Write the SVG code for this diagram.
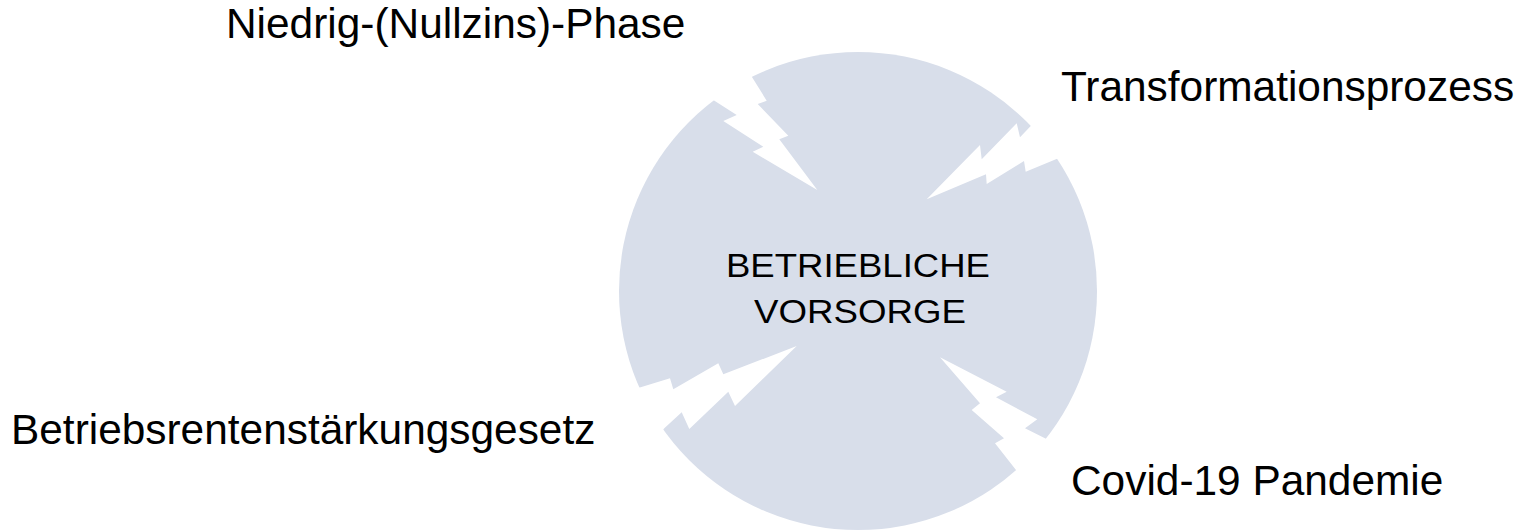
<svg xmlns="http://www.w3.org/2000/svg" width="1519" height="531" viewBox="0 0 1519 531">
  <style>
    .lbl { font-family: "Liberation Sans", Arial, sans-serif; font-size: 42.4px; fill: #000000; }
    .ctr { font-family: "Liberation Sans", Arial, sans-serif; font-size: 33px; fill: #000000; text-anchor: middle; }
    .disc { fill: #D8DEEA; }
    .bolt { fill: #FFFFFF; stroke: none; }
  </style>
  <rect x="0" y="0" width="1519" height="531" fill="#FFFFFF"/>
  <g id="node-vorsorge">
    <circle class="disc" cx="858" cy="291" r="239"/>
  </g>
  <g id="connectors">
    <polygon class="bolt" points="750.7,75 766.7,100.7 757.7,104 788.3,135.7 779.3,139.3 817.3,190 752.7,151.7 763.3,146.7 723.3,121 736.7,115 713.3,100 700,88 745,60"/>
    <polygon class="bolt" points="926.7,199.3 980,145 981.7,159.3 1016.7,123.3 1020,137.3 1031.7,125 1040,112 1070,145 1058.3,158.3 1025.7,171.7 1024,161 986.7,184 986,174.3"/>
    <polygon class="bolt" points="796.7,346 723.3,374.3 718.3,363.3 673.3,389.3 670,378.3 640.7,387.3 625,390 650,445 664.3,428.3 681.7,412.3 689.3,429 728.3,391.7 735,406"/>
    <polygon class="bolt" points="940,357.3 1006.7,391.7 996,397.3 1037.3,419.3 1025,428.3 1045,438.3 1060,448 1025,485 1016,470 995,443.3 1004,438.3 971.7,410 980,403.3"/>
  </g>
  <g id="node-vorsorge-label">
    <text class="ctr" x="858" y="277" textLength="264" lengthAdjust="spacingAndGlyphs">BETRIEBLICHE</text>
    <text class="ctr" x="860" y="323" textLength="212" lengthAdjust="spacingAndGlyphs">VORSORGE</text>
  </g>
  <g id="node-niedrig">
    <text class="lbl" x="226" y="38">Niedrig-(Nullzins)-Phase</text>
  </g>
  <g id="node-transformation">
    <text class="lbl" x="1061" y="101">Transformationsprozess</text>
  </g>
  <g id="node-betriebsrenten">
    <text class="lbl" x="11" y="444">Betriebsrentenstärkungsgesetz</text>
  </g>
  <g id="node-covid">
    <text class="lbl" x="1071" y="495">Covid-19 Pandemie</text>
  </g>
</svg>
